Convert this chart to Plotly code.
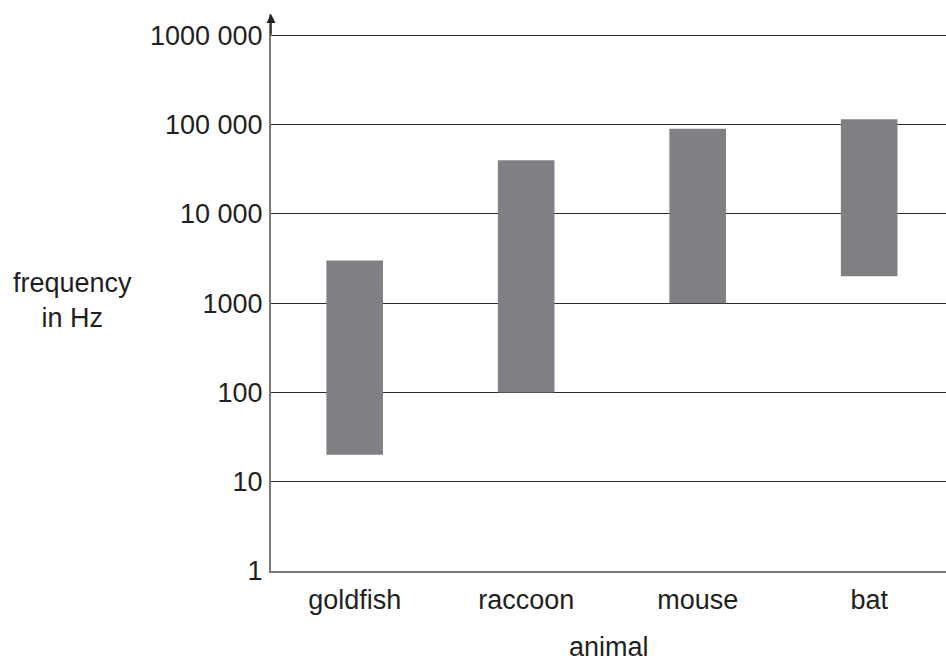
import plotly.graph_objects as go

animals = ["goldfish", "raccoon", "mouse", "bat"]
low_hz = [20, 100, 1000, 2000]
high_hz = [3000, 40000, 90000, 115000]

tick_vals = [1, 10, 100, 1000, 10000, 100000, 1000000]
tick_text = ["1", "10", "100", "1000", "10 000", "100 000", "1000 000"]

FONT = "Liberation Sans, Arial, sans-serif"
FS = 27

fig = go.Figure()
fig.add_trace(go.Bar(
    x=list(range(len(animals))),
    y=[h - l for h, l in zip(high_hz, low_hz)],
    base=low_hz,
    width=0.33,
    marker=dict(color="#808084", line=dict(width=0)),
    hoverinfo="skip",
))

fig.update_layout(
    width=946, height=661,
    margin=dict(l=271, r=0, t=14, b=90, autoexpand=False),
    paper_bgcolor="white", plot_bgcolor="white",
    showlegend=False,
    font=dict(family=FONT, size=FS, color="#231f20"),
    xaxis=dict(
        range=[-0.488, 3.448],
        tickvals=list(range(len(animals))), ticktext=animals,
        showgrid=False, zeroline=False, automargin=False,
        showline=True, linecolor="#7a7a7a", linewidth=2,
        ticks="", ticklabelstandoff=4,
        tickfont=dict(size=FS),
    ),
    yaxis=dict(
        type="log", range=[0, 6.24],
        tickvals=tick_vals, ticktext=tick_text,
        showgrid=True, gridcolor="#2a2a2a", gridwidth=1,
        zeroline=False, automargin=False,
        showline=True, linecolor="#7a7a7a", linewidth=2,
        ticks="", ticklabelstandoff=1,
        tickfont=dict(size=FS),
    ),
)

fig.add_annotation(
    xref="paper", yref="paper", x=-0.2948, y=0.4865,
    xanchor="center", yanchor="middle",
    text="frequency<br>in Hz", showarrow=False,
    font=dict(size=FS, family=FONT, color="#231f20"), align="center",
)

fig.add_annotation(
    xref="paper", yref="paper", x=0.5, y=0, yshift=-76,
    xanchor="center", yanchor="middle",
    text="animal", showarrow=False,
    font=dict(size=FS, family=FONT, color="#231f20"),
)

fig.add_annotation(
    xref="paper", yref="paper", x=0, y=1.0, ax=0, ay=22,
    axref="pixel", ayref="pixel",
    text="", showarrow=True, arrowhead=2, arrowsize=1.2, arrowwidth=1.5,
    arrowcolor="#231f20",
)

fig.write_html(
    "out.html",
    config={"displayModeBar": False},
    post_script="document.body.style.margin='0';document.body.style.overflow='hidden';",
)
